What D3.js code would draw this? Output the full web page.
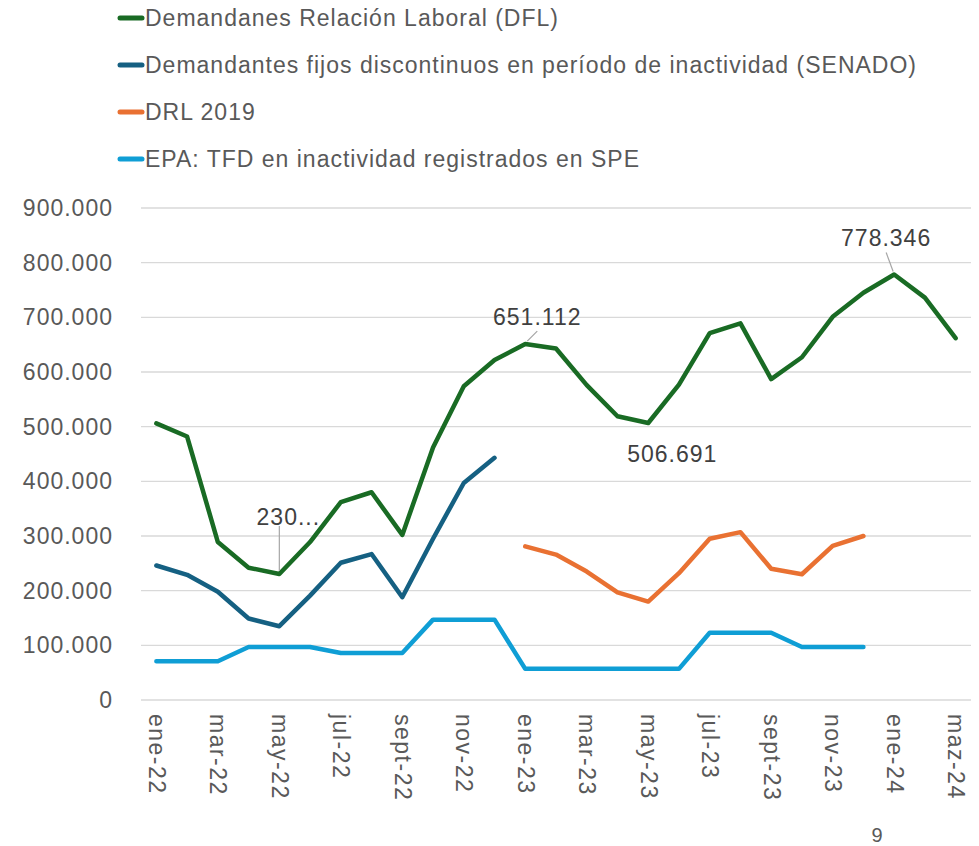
<!DOCTYPE html>
<html>
<head>
<meta charset="utf-8">
<script src="https://cdn.jsdelivr.net/npm/d3@7"></script>
<style>
  body { margin: 0; background: #fff; }
  #graf { width: 979px; height: 846px; }
  text { font-family: "Liberation Sans", Arial, sans-serif; }
</style>
</head>
<body>
<div id="graf"></div>
<script>
// Meses (categorias del eje X)
const meses = ["ene-22","feb-22","mar-22","abr-22","may-22","jun-22","jul-22","ago-22","sept-22","oct-22","nov-22","dic-22",
               "ene-23","feb-23","mar-23","abr-23","may-23","jun-23","jul-23","ago-23","sept-23","oct-23","nov-23","dic-23",
               "ene-24","feb-24","maz-24"]

// Etiquetas visibles del eje X (una de cada dos)
const etiquetasX = ["ene-22","mar-22","may-22","jul-22","sept-22","nov-22","ene-23","mar-23","may-23","jul-23","sept-23","nov-23","ene-24","maz-24"]

const ticksY = [0, 100000, 200000, 300000, 400000, 500000, 600000, 700000, 800000, 900000]

// Series
const dfl = [506000, 482000, 289000, 242000, 230400, 289000, 362000, 380000, 302000, 462000, 574000, 622000,
             651112, 643000, 576000, 519000, 506691, 577000, 671000, 689000, 587000, 627000, 701000, 745000,
             778346, 736000, 662000]
const senado = [246000, 229000, 198000, 149000, 135000, 191000, 251000, 267000, 188000, 295000, 397000, 443000]
const drl2019 = [281000, 266000, 235000, 197000, 180000, 232000, 295000, 307000, 240000, 230000, 282000, 300000]
const epa = [71000, 71000, 71000, 97000, 97000, 97000, 86000, 86000, 86000, 147000, 147000, 147000,
             57000, 57000, 57000, 57000, 57000, 57000, 123000, 123000, 123000, 97000, 97000, 97000]

const nombres = ["Demandanes Relación Laboral (DFL)",
                 "Demandantes fijos discontinuos en período de inactividad (SENADO)",
                 "DRL 2019",
                 "EPA: TFD en inactividad registrados en SPE"]
const colores = ["#196B24", "#156082", "#E97132", "#0F9ED5"]

const series = [
  { nombre: nombres[0], color: colores[0], inicio: 0, valores: dfl },
  { nombre: nombres[1], color: colores[1], inicio: 0, valores: senado },
  { nombre: nombres[2], color: colores[2], inicio: 12, valores: drl2019 },
  { nombre: nombres[3], color: colores[3], inicio: 0, valores: epa }
]

// Etiquetas de datos: [indice del mes, texto]
const etiquetasDatos = [
  { i: 4, texto: "230...", dx: 9, dy: -57, guia: [[0, -48], [0, -3]] },
  { i: 12, texto: "651.112", dx: 12, dy: -27, guia: [[12, -13], [2, -3]] },
  { i: 16, texto: "506.691", dx: 24, dy: 31, guia: null },
  { i: 24, texto: "778.346", dx: -8, dy: -37, guia: [[-8, -22], [-1, -3]] }
]

const es = d3.formatLocale({ decimal: ",", thousands: ".", grouping: [3], currency: ["", " €"] })
const fmt = es.format(",.0f")

const draw = () => {
  const ancho = 979, alto = 846
  const svg = d3.select("#graf").append("svg")
    .attr("width", ancho)
    .attr("height", alto)

  // Escalas
  const x = d3.scalePoint().domain(meses).range([141, 971]).padding(0.5)
  const y = d3.scaleLinear().domain([0, 900000]).range([700, 208])

  // Rejilla
  svg.append("g")
    .selectAll("line")
    .data(ticksY)
    .join("line")
    .attr("x1", 141).attr("x2", 971)
    .attr("y1", d => y(d)).attr("y2", d => y(d))
    .attr("stroke", "#d9d9d9")
    .attr("stroke-width", 1.3)

  // Eje Y
  const ejeY = svg.append("g")
    .attr("transform", "translate(141,0)")
    .call(d3.axisLeft(y).tickValues(ticksY).tickFormat(fmt).tickSize(0).tickPadding(28))
  ejeY.select(".domain").remove()
  ejeY.selectAll("text")
    .attr("fill", "#595959")
    .style("font-size", "23px")
    .style("letter-spacing", "1px")
    .style("font-family", "Liberation Sans, Arial, sans-serif")

  // Eje X (texto vertical)
  const ejeX = svg.append("g")
    .attr("transform", "translate(0,700)")
    .call(d3.axisBottom(x).tickValues(etiquetasX).tickSize(0).tickPadding(0))
  ejeX.select(".domain").remove()
  ejeX.selectAll("text")
    .attr("transform", "translate(0,14) rotate(90)")
    .attr("x", 0).attr("y", 0)
    .attr("dy", "0.35em")
    .attr("text-anchor", "start")
    .attr("fill", "#595959")
    .style("font-size", "23px")
    .style("letter-spacing", "1.5px")
    .style("font-family", "Liberation Sans, Arial, sans-serif")

  // Lineas
  const linea = d3.line()
    .x(d => x(d.mes))
    .y(d => y(d.v))

  svg.append("g")
    .selectAll("path")
    .data(series)
    .join("path")
    .attr("d", s => linea(s.valores.map((v, k) => ({ mes: meses[s.inicio + k], v }))))
    .attr("fill", "none")
    .attr("stroke", s => s.color)
    .attr("stroke-width", 4.5)
    .attr("stroke-linejoin", "round")
    .attr("stroke-linecap", "round")

  // Etiquetas de datos
  const lab = svg.append("g")
  etiquetasDatos.forEach(e => {
    const px = x(meses[e.i]), py = y(dfl[e.i])
    if (e.guia) {
      lab.append("line")
        .attr("x1", px + e.guia[0][0]).attr("y1", py + e.guia[0][1])
        .attr("x2", px + e.guia[1][0]).attr("y2", py + e.guia[1][1])
        .attr("stroke", "#a6a6a6")
        .attr("stroke-width", 1.2)
    }
    lab.append("text")
      .attr("x", px + e.dx).attr("y", py + e.dy)
      .attr("text-anchor", "middle")
      .attr("dominant-baseline", "central")
      .attr("fill", "#404040")
      .style("font-size", "23px")
      .style("letter-spacing", "1px")
      .text(e.texto)
  })

  // Leyenda
  const ley = svg.append("g")
    .selectAll("g")
    .data(series)
    .join("g")
    .attr("transform", (d, i) => `translate(0, ${18 + i * 47})`)
  ley.append("line")
    .attr("x1", 120).attr("x2", 142)
    .attr("stroke", d => d.color)
    .attr("stroke-width", 5)
    .attr("stroke-linecap", "round")
  ley.append("text")
    .attr("x", 145)
    .attr("dy", "0.35em")
    .attr("fill", "#595959")
    .style("font-size", "23px")
    .style("letter-spacing", "1px")
    .text(d => d.nombre)

  // Numero de pagina
  svg.append("text")
    .attr("x", 877).attr("y", 835)
    .attr("text-anchor", "middle")
    .attr("dominant-baseline", "central")
    .attr("fill", "#595959")
    .style("font-size", "20px")
    .text("9")
}

draw()
</script>
</body>
</html>
